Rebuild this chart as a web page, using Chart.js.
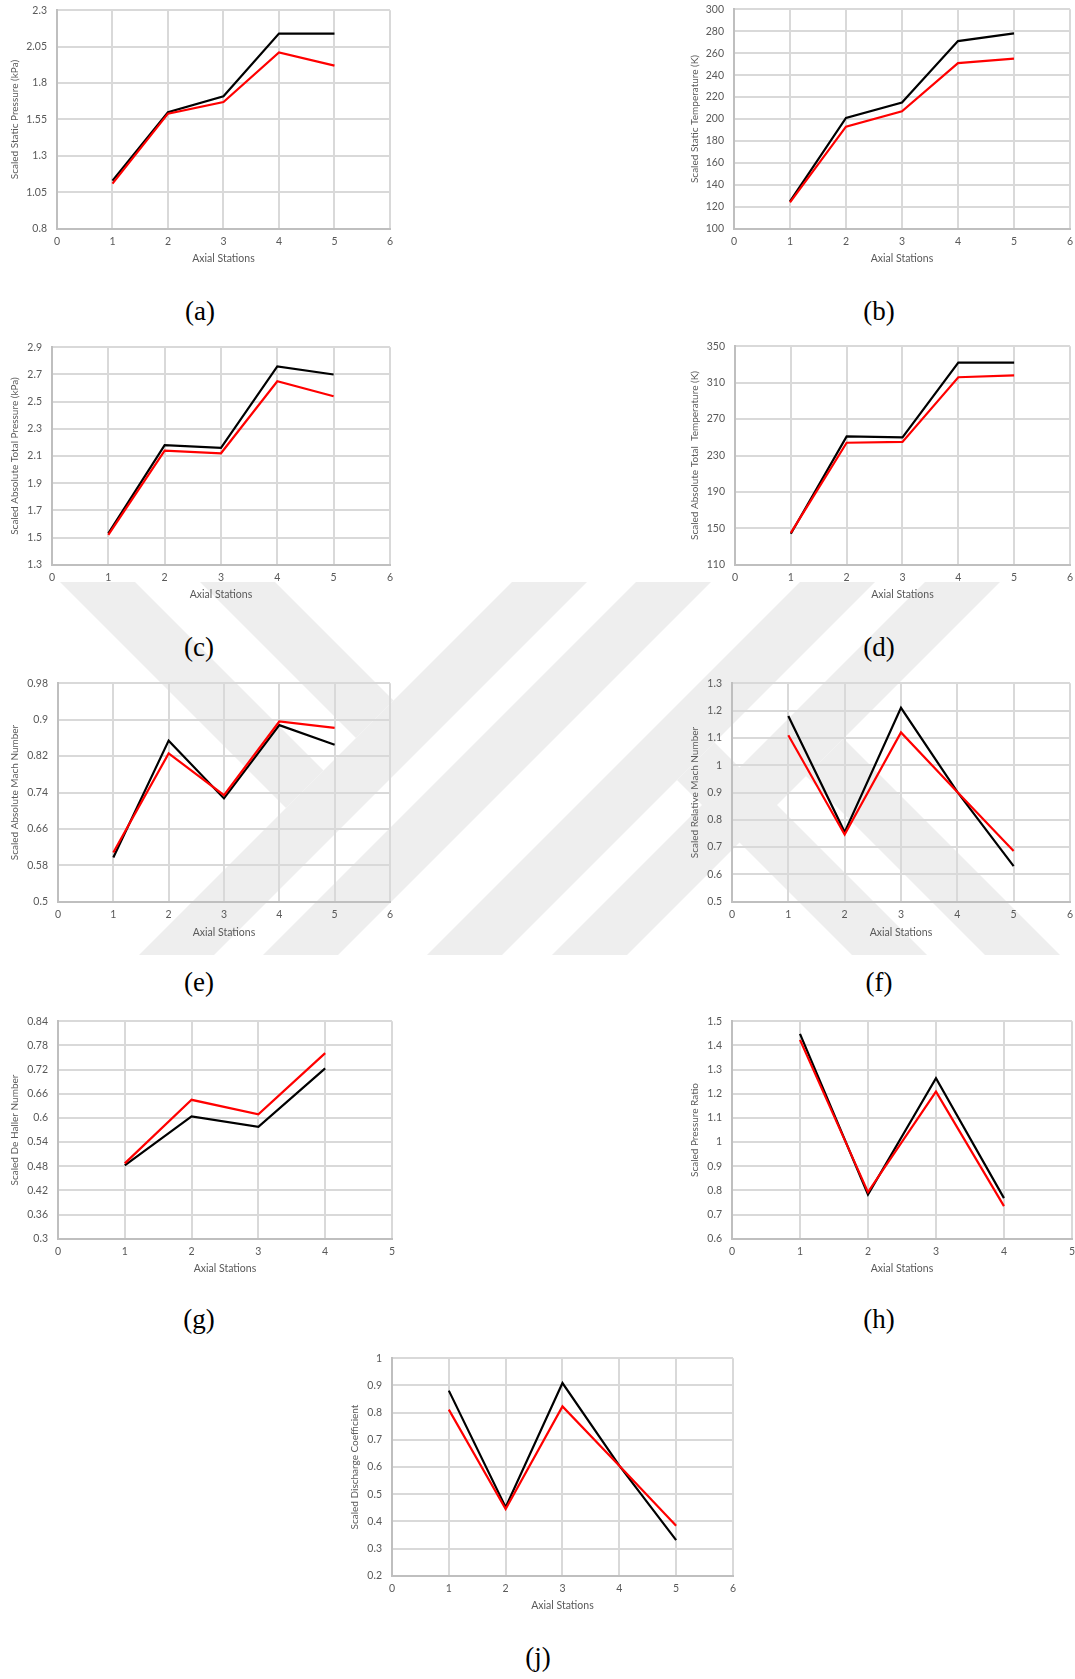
<!DOCTYPE html>
<html><head><meta charset="utf-8">
<script src="https://cdn.jsdelivr.net/npm/chart.js@4.4.1/dist/chart.umd.min.js"></script>
<style>
html,body{margin:0;padding:0;background:#fff;}
body{width:1075px;height:1679px;position:relative;overflow:hidden;}
.wm{position:absolute;left:0;top:0;z-index:0}
.panel{position:absolute;z-index:1}
.lab{position:absolute;z-index:1;font-family:'Liberation Serif','Times New Roman',serif;font-size:27px;color:#000;transform:translate(-50%,-50%);white-space:nowrap;line-height:1;}
</style></head><body>
<svg class="wm" width="1075" height="1679" xmlns="http://www.w3.org/2000/svg">
  <g fill="#eeeeee">
    <polygon points="512,582 587,582 214,955 139,955"/>
    <polygon points="636,582 711,582 338,955 263,955"/>
    <polygon points="800,582 875,582 502,955 427,955"/>
    <polygon points="925,582 1000,582 627,955 552,955"/>
    <polygon points="60,582 135,582 323.5,770.5 286,808"/>
    <polygon points="200,582 275,582 393.5,700.5 356,738"/>
    <polygon points="714.5,742.5 927,955 852,955 677,780"/>
    <polygon points="843.5,738.5 1060,955 985,955 806,776"/>
  </g>
</svg>
<script>
// ---------- DATA ----------
const stations5 = [1, 2, 3, 4, 5];
const stations4 = [1, 2, 3, 4];

// (a) Scaled Static Pressure (kPa)
const staticPressureBlack = [1.13, 1.60, 1.71, 2.14, 2.14];
const staticPressureRed   = [1.11, 1.59, 1.67, 2.01, 1.92];
const staticPressureTicks = [0.8, 1.05, 1.3, 1.55, 1.8, 2.05, 2.3];

// (b) Scaled Static Temperature (K)
const staticTempBlack = [125, 201, 215, 271, 278];
const staticTempRed   = [124, 193, 207, 251, 255];
const staticTempTicks = [100, 120, 140, 160, 180, 200, 220, 240, 260, 280, 300];

// (c) Scaled Absolute Total Pressure (kPa)
const totalPressureBlack = [1.53, 2.18, 2.16, 2.76, 2.70];
const totalPressureRed   = [1.52, 2.14, 2.12, 2.65, 2.54];
const totalPressureTicks = [1.3, 1.5, 1.7, 1.9, 2.1, 2.3, 2.5, 2.7, 2.9];

// (d) Scaled Absolute Total Temperature (K)
const totalTempBlack = [144, 251, 250, 332, 332];
const totalTempRed   = [145, 244, 245, 316, 318];
const totalTempTicks = [110, 150, 190, 230, 270, 310, 350];

// (e) Scaled Absolute Mach Number
const absMachBlack = [0.597, 0.854, 0.727, 0.888, 0.845];
const absMachRed   = [0.608, 0.826, 0.734, 0.896, 0.882];
const absMachTicks = [0.5, 0.58, 0.66, 0.74, 0.82, 0.9, 0.98];

// (f) Scaled Relative Mach Number
const relMachBlack = [1.18, 0.755, 1.21, 0.902, 0.63];
const relMachRed   = [1.11, 0.746, 1.12, 0.902, 0.686];
const relMachTicks = [0.5, 0.6, 0.7, 0.8, 0.9, 1, 1.1, 1.2, 1.3];

// (g) Scaled De Haller Number
const deHallerBlack = [0.482, 0.604, 0.578, 0.723];
const deHallerRed   = [0.487, 0.645, 0.609, 0.761];
const deHallerTicks = [0.3, 0.36, 0.42, 0.48, 0.54, 0.6, 0.66, 0.72, 0.78, 0.84];

// (h) Scaled Pressure Ratio
const pressureRatioBlack = [1.448, 0.783, 1.264, 0.768];
const pressureRatioRed   = [1.423, 0.793, 1.209, 0.735];
const pressureRatioTicks = [0.6, 0.7, 0.8, 0.9, 1, 1.1, 1.2, 1.3, 1.4, 1.5];

// (j) Scaled Discharge Coefficient
const dischargeBlack = [0.881, 0.452, 0.909, 0.605, 0.331];
const dischargeRed   = [0.811, 0.445, 0.823, 0.605, 0.384];
const dischargeTicks = [0.2, 0.3, 0.4, 0.5, 0.6, 0.7, 0.8, 0.9, 1];

const xTitle = 'Axial Stations';

// ---------- LAYOUT ----------
const TXT = '#595959', GRID = '#d9d9d9', AXIS = '#bfbfbf';
const FONT = "Lato, 'Open Sans', sans-serif";
const FS_TICK = 10.5, FS_YT = 10, FS_XT = 10.5;

function makeConfig(yTitle, yTicks, xMax, stations, black, red, yW, xH) {
  return {
    type: 'line',
    data: { datasets: [
      { label: 'red', data: stations.map((x, i) => ({ x, y: red[i] })), borderColor: '#ff0000', borderWidth: 2.2, pointRadius: 0, tension: 0, fill: false },
      { label: 'black', data: stations.map((x, i) => ({ x, y: black[i] })), borderColor: '#000000', borderWidth: 2.2, pointRadius: 0, tension: 0, fill: false }
    ]},
    options: {
      responsive: false, maintainAspectRatio: false, animation: false, devicePixelRatio: 1,
      layout: { padding: { top: 0, right: 8, left: 0, bottom: 0 } },
      plugins: { legend: { display: false }, tooltip: { enabled: false } },
      scales: {
        x: {
          type: 'linear', min: 0, max: xMax,
          ticks: { stepSize: 1, padding: 7, color: TXT, font: { family: FONT, size: FS_TICK } },
          grid: { color: GRID, lineWidth: 2, drawTicks: false },
          border: { color: AXIS, width: 2 },
          title: { display: true, text: xTitle, color: TXT, font: { family: FONT, size: FS_XT }, padding: 0 },
          afterFit(s) { s.height = xH; }
        },
        y: {
          type: 'linear', min: yTicks[0], max: yTicks[yTicks.length - 1],
          afterBuildTicks(s) { s.ticks = yTicks.map(v => ({ value: v })); },
          ticks: { padding: 10, color: TXT, font: { family: FONT, size: FS_TICK }, callback: v => String(v) },
          grid: { color: GRID, lineWidth: 2, drawTicks: false },
          border: { color: AXIS, width: 2 },
          title: { display: true, text: yTitle, color: TXT, font: { family: FONT, size: FS_YT }, padding: 0 },
          afterFit(s) { s.width = yW; }
        }
      }
    }
  };
}

function panel(box, yTitle, yTicks, xMax, stations, black, red, letter, lx, ly) {
  const yOff = FS_YT * 1.2 / 2, xOff = FS_XT * 1.2 / 2;
  const cl = box.ytx - yOff;
  const yW = box.l - cl, xH = box.xty + xOff - box.b;
  let cw = Math.round(box.r + 8 - cl), ch = Math.round(box.b - box.t + 10 + xH);

  const div = document.createElement('div');
  div.className = 'panel';
  document.body.appendChild(div);

  // trial render to measure the chart area, then size the canvas so the plot box matches
  let cv = document.createElement('canvas');
  cv.width = cw; cv.height = ch; cv.style.width = cw + 'px'; cv.style.height = ch + 'px';
  div.appendChild(cv);
  let chart = new Chart(cv, makeConfig(yTitle, yTicks, xMax, stations, black, red, yW, xH));
  const ca = chart.chartArea;
  const nw = Math.round(cw + (box.r - box.l) - (ca.right - ca.left));
  const nh = Math.round(ch + (box.b - box.t) - (ca.bottom - ca.top));
  const caLeft = ca.left, caTop = ca.top;
  chart.destroy(); div.removeChild(cv);

  cv = document.createElement('canvas');
  cv.width = nw; cv.height = nh; cv.style.width = nw + 'px'; cv.style.height = nh + 'px';
  div.appendChild(cv);
  div.style.left = (box.l - caLeft) + 'px';
  div.style.top = (box.t - caTop) + 'px';
  new Chart(cv, makeConfig(yTitle, yTicks, xMax, stations, black, red, yW, xH));

  const lab = document.createElement('div');
  lab.className = 'lab'; lab.textContent = letter;
  lab.style.left = lx + 'px'; lab.style.top = ly + 'px';
  document.body.appendChild(lab);
}

panel({l:57, r:390, t:10, b:228, ytx:15, xty:258}, 'Scaled Static Pressure (kPa)', staticPressureTicks, 6, stations5, staticPressureBlack, staticPressureRed, '(a)', 200, 311);
panel({l:734, r:1070, t:9, b:228, ytx:695, xty:258}, 'Scaled Static Temperature (K)', staticTempTicks, 6, stations5, staticTempBlack, staticTempRed, '(b)', 879, 311);
panel({l:52, r:390, t:347, b:564, ytx:15, xty:594}, 'Scaled Absolute Total Pressure (kPa)', totalPressureTicks, 6, stations5, totalPressureBlack, totalPressureRed, '(c)', 199, 647);
panel({l:735, r:1070, t:346, b:564, ytx:695, xty:594}, 'Scaled Absolute Total  Temperature (K)', totalTempTicks, 6, stations5, totalTempBlack, totalTempRed, '(d)', 879, 647);
panel({l:58, r:390, t:683, b:901, ytx:15, xty:932}, 'Scaled Absolute Mach Number', absMachTicks, 6, stations5, absMachBlack, absMachRed, '(e)', 199, 982);
panel({l:732, r:1070, t:683, b:901, ytx:695, xty:932}, 'Scaled Relative Mach Number', relMachTicks, 6, stations5, relMachBlack, relMachRed, '(f)', 879, 982);
panel({l:58, r:392, t:1021, b:1238, ytx:15, xty:1268}, 'Scaled De Haller Number', deHallerTicks, 5, stations4, deHallerBlack, deHallerRed, '(g)', 199, 1319);
panel({l:732, r:1072, t:1021, b:1238, ytx:695, xty:1268}, 'Scaled Pressure Ratio', pressureRatioTicks, 5, stations4, pressureRatioBlack, pressureRatioRed, '(h)', 879, 1319);
panel({l:392, r:733, t:1358, b:1575, ytx:355, xty:1605}, 'Scaled Discharge Coefficient', dischargeTicks, 6, stations5, dischargeBlack, dischargeRed, '(j)', 538, 1657);
</script>
</body></html>
